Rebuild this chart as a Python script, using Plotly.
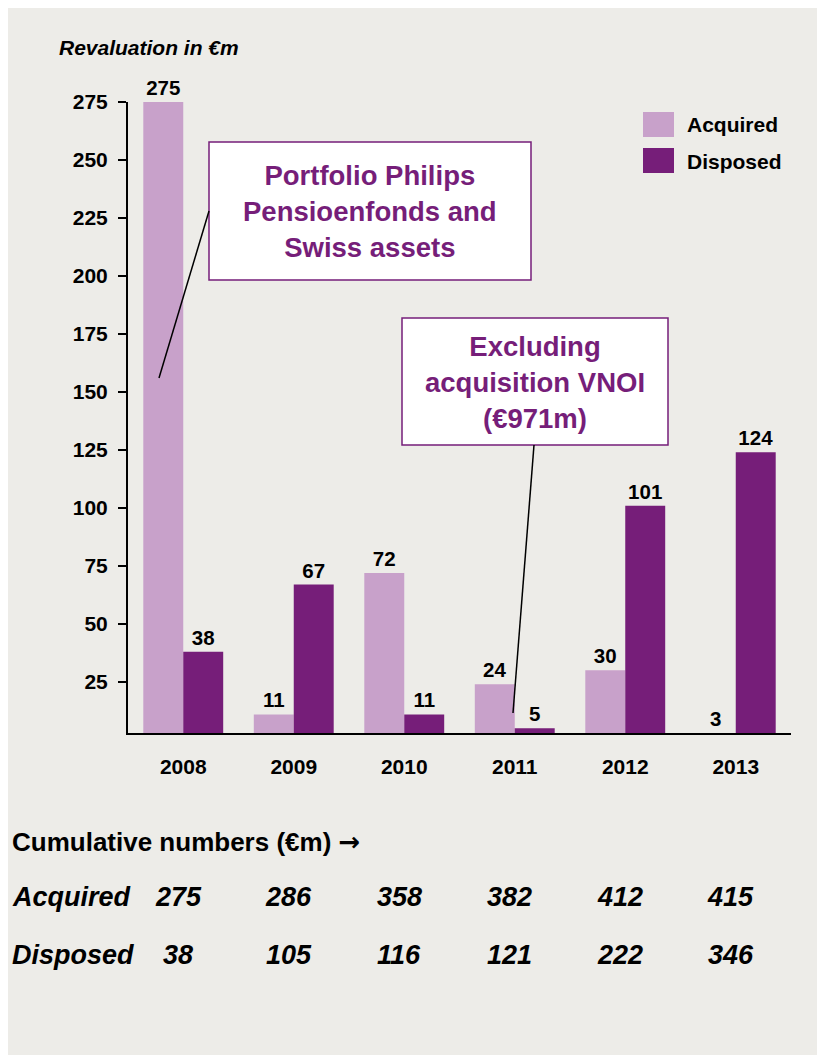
import plotly.graph_objects as go

# ---- data ----
years = ["2008", "2009", "2010", "2011", "2012", "2013"]
acquired = [275, 11, 72, 24, 30, 3]
disposed = [38, 67, 11, 5, 101, 124]
cum_acquired = [275, 286, 358, 382, 412, 415]
cum_disposed = [38, 105, 116, 121, 222, 346]
y_ticks = [25, 50, 75, 100, 125, 150, 175, 200, 225, 250, 275]

# ---- style ----
C_ACQ = "#C8A1CA"
C_DIS = "#761E79"
C_BG = "#EDECE8"
FONT = "Liberation Sans, Arial, sans-serif"
W, H = 825, 1055
OFF = 8  # page body margin: figure origin sits at screen (8, 8)
L, R, T, B = 120, 42, 94, 330
PW, PH = W - L - R, H - T - B


def px(x):
    """screen x pixel -> paper x"""
    return (x - OFF - L) / PW


def py(y):
    """screen y pixel -> paper y"""
    return (H - B - (y - OFF)) / PH


fig = go.Figure()
fig.add_trace(go.Bar(
    x=years, y=acquired, name="Acquired", marker=dict(color=C_ACQ, line=dict(width=0)),
    text=[str(v) for v in acquired], textposition="outside", cliponaxis=False,
    textfont=dict(family=FONT, size=20.5, color="black", weight="bold"),
))
fig.add_trace(go.Bar(
    x=years, y=disposed, name="Disposed", marker=dict(color=C_DIS, line=dict(width=0)),
    text=[str(v) for v in disposed], textposition="outside", cliponaxis=False,
    textfont=dict(family=FONT, size=20.5, color="black", weight="bold"),
))

shapes = [
    # annotation boxes
    dict(type="rect", xref="paper", yref="paper", x0=px(209), x1=px(531), y0=py(280), y1=py(142),
         fillcolor="white", line=dict(color=C_DIS, width=1.5)),
    dict(type="rect", xref="paper", yref="paper", x0=px(402), x1=px(668), y0=py(445), y1=py(318),
         fillcolor="white", line=dict(color=C_DIS, width=1.5)),
    # leader lines
    dict(type="line", xref="paper", yref="paper", x0=px(209), y0=py(211), x1=px(159), y1=py(378),
         line=dict(color="black", width=1.5)),
    dict(type="line", xref="paper", yref="paper", x0=px(534), y0=py(445), x1=px(513), y1=py(713),
         line=dict(color="black", width=1.5)),
    # legend swatches
    dict(type="rect", xref="paper", yref="paper", x0=px(643), x1=px(674), y0=py(137), y1=py(112),
         fillcolor=C_ACQ, line=dict(width=0)),
    dict(type="rect", xref="paper", yref="paper", x0=px(643), x1=px(674), y0=py(173), y1=py(148),
         fillcolor=C_DIS, line=dict(width=0)),
]

ann = []


def text(x, y, s, size, xanchor="left", italic=False, color="black", **kw):
    ann.append(dict(xref="paper", yref="paper", x=px(x), y=py(y), text=s, showarrow=False,
                    xanchor=xanchor, yanchor="middle",
                    font=dict(family=FONT, size=size, color=color, weight="bold",
                              style="italic" if italic else "normal"), **kw))


text(57, 47, "Revaluation in €m", 21, italic=True)
text(685, 125, "Acquired", 21)
text(685, 161, "Disposed", 21)
text(370, 211, "Portfolio Philips<br>Pensioenfonds and<br>Swiss assets", 27.5, xanchor="center", color=C_DIS)
text(535, 382, "Excluding<br>acquisition VNOI<br>(€971m)", 27.5, xanchor="center", color=C_DIS)
text(10, 842, "Cumulative numbers (€m) <span style=\"font-family:'DejaVu Sans'\">→</span>", 26)
text(10, 897, "Acquired", 27, italic=True)
text(10, 955, "Disposed", 27, italic=True)

for i, (a, d) in enumerate(zip(cum_acquired, cum_disposed)):
    for v, yy in ((a, 897), (d, 955)):
        ann.append(dict(xref="x", yref="paper", x=i, y=py(yy), text=str(v), showarrow=False,
                        xanchor="center", yanchor="middle", xshift=-5,
                        font=dict(family=FONT, size=27, color="black", weight="bold", style="italic")))

fig.update_layout(
    width=W, height=H,
    margin=dict(l=L, r=R, t=T, b=B, pad=0),
    paper_bgcolor=C_BG, plot_bgcolor=C_BG,
    barmode="group", bargap=0.277, bargroupgap=0,
    showlegend=False,
    shapes=shapes, annotations=ann,
    font=dict(family=FONT, color="black"),
)
fig.update_xaxes(
    type="category", range=[-0.5, len(years) - 0.5],
    showline=True, linecolor="black", linewidth=2, ticks="", showgrid=False, zeroline=False,
    tickfont=dict(family=FONT, size=21, color="black", weight="bold"), ticklabelstandoff=14,
)
fig.update_yaxes(
    range=[3, 275], tickvals=y_ticks, showline=True, linecolor="black", linewidth=2,
    ticks="outside", ticklen=8, tickwidth=2, tickcolor="black", showgrid=False, zeroline=False,
    tickfont=dict(family=FONT, size=21, color="black", weight="bold"), ticklabelstandoff=6,
)

fig.write_html("out.html")
